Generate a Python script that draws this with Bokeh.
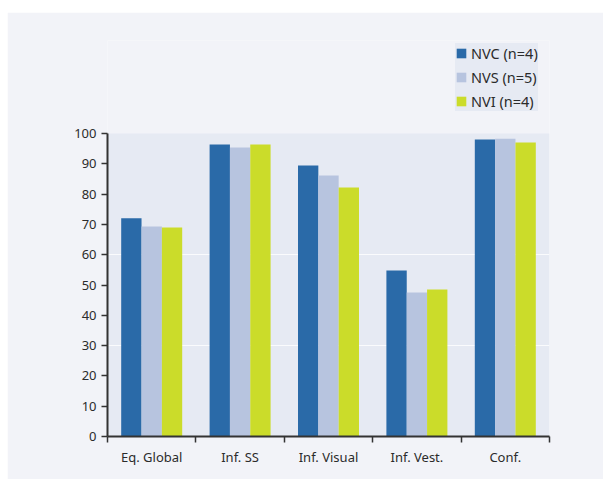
from bokeh.plotting import figure
from bokeh.models import ColumnDataSource, FixedTicker, Legend, LegendItem, BoxAnnotation
from bokeh.embed import file_html
from bokeh.resources import INLINE

categories = ["Eq. Global", "Inf. SS", "Inf. Visual", "Inf. Vest.", "Conf."]
series_names = ["NVC (n=4)", "NVS (n=5)", "NVI (n=4)"]
nvc = [72.0, 96.4, 89.4, 54.8, 98.0]
nvs = [69.3, 95.4, 86.1, 47.5, 98.3]
nvi = [69.0, 96.4, 82.2, 48.5, 97.0]
colors = ["#2a6aa8", "#b7c4df", "#cbdc2a"]
y_ticks = list(range(0, 101, 10))
y_max = 100

FONT = "Noto Sans"

# frame spans from legend top (y=40) to x-axis (y=436); data area 0..100 spans 303 px
y_end = y_max * 396 / 303

p = figure(width=596, height=467, x_range=(0, len(categories)), y_range=(0, y_end),
           output_backend="svg", toolbar_location=None,
           margin=(12, 0, 0, 7),
           min_border_left=100, min_border_top=28, min_border_right=54, min_border_bottom=43)
p.background_fill_color = "#f2f3f8"
p.border_fill_color = "#f2f3f8"
p.outline_line_color = None

area = BoxAnnotation(left=0, right=len(categories), bottom=0, top=y_max,
                     fill_color="#e6eaf3", fill_alpha=1, line_color=None, level="image")
p.add_layout(area)

centers = [i + 0.5 for i in range(len(categories))]
bw = 0.23
offsets = [-bw, 0.0, bw]
renderers = []
for vals, off, col in zip([nvc, nvs, nvi], offsets, colors):
    src = ColumnDataSource(dict(x=[c + off for c in centers], top=vals))
    r = p.vbar(x="x", top="top", width=bw, bottom=0, source=src,
               fill_color=col, line_color=None)
    renderers.append(r)

# x axis: labels at centres, ticks at category boundaries
p.xaxis.ticker = FixedTicker(ticks=centers, minor_ticks=list(range(len(categories) + 1)))
p.xaxis.major_label_overrides = {c: lab for c, lab in zip(centers, categories)}
p.xaxis.major_tick_line_color = None
p.xaxis.minor_tick_in = 0
p.xaxis.minor_tick_out = 6
p.xaxis.minor_tick_line_color = "#333333"
p.xaxis.minor_tick_line_width = 1.5

p.yaxis.ticker = FixedTicker(ticks=y_ticks)
p.yaxis.bounds = (0, y_max)
p.yaxis.minor_tick_line_color = None
p.yaxis.major_tick_in = 0
p.yaxis.major_tick_out = 6
p.yaxis.major_tick_line_color = "#333333"
p.yaxis.major_tick_line_width = 1.5

for ax in (p.xaxis, p.yaxis):
    ax.axis_line_color = "#333333"
    ax.axis_line_width = 2
    ax.major_label_text_font = FONT
    ax.major_label_text_font_size = "13px"
    ax.major_label_text_color = "#2b2b2b"

p.xgrid.grid_line_color = None
p.ygrid.ticker = FixedTicker(ticks=[30, 60])
p.ygrid.grid_line_color = "white"
p.ygrid.grid_line_alpha = 0.8
p.ygrid.grid_line_width = 1

legend = Legend(items=[LegendItem(label=n, renderers=[r]) for n, r in zip(series_names, renderers)],
                location=(348, 325))
legend.background_fill_color = "#e6eaf3"
legend.background_fill_alpha = 1
legend.border_line_color = None
legend.glyph_width = 12
legend.glyph_height = 12
legend.label_text_font = FONT
legend.label_text_font_size = "14.5px"
legend.label_text_color = "#2b2b2b"
legend.label_standoff = 4
legend.spacing = 4
legend.padding = 7
legend.margin = 0
legend.label_height = 12
p.add_layout(legend, "center")

open("out.html", "w").write(file_html(p, INLINE))
